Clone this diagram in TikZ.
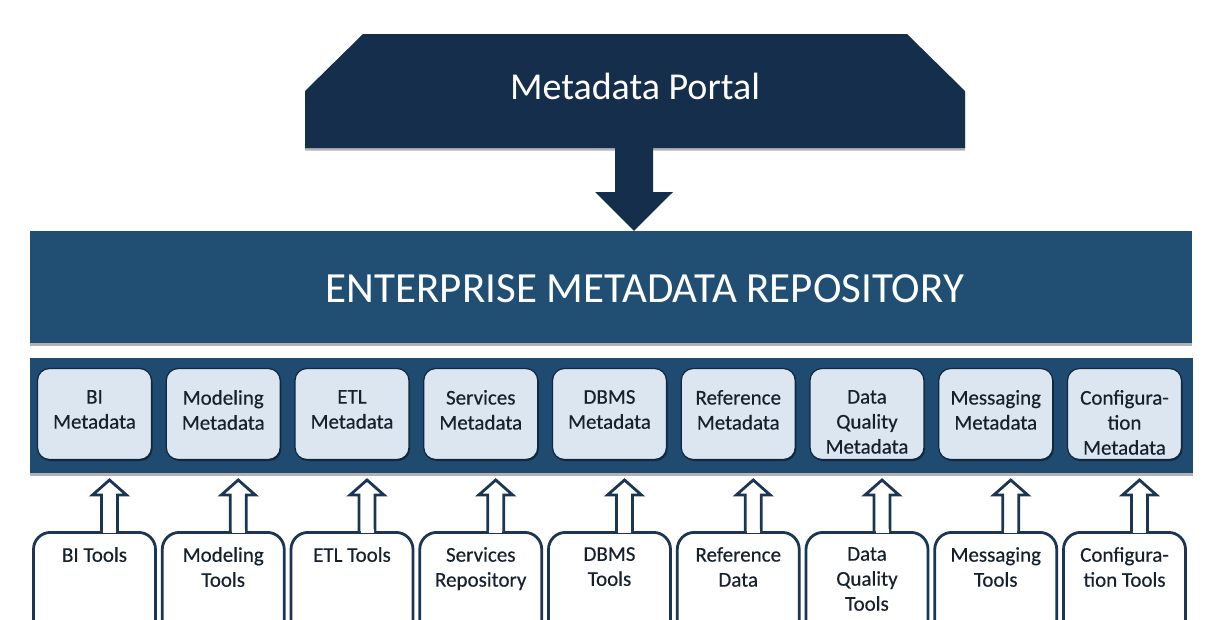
\documentclass[tikz,border=0pt]{standalone}
\usepackage{fontspec}
\setmainfont{Carlito}
\newfontfamily\cellfont{Carlito}[FakeBold=0.35]
\usetikzlibrary{shadows,calc}
\definecolor{portalblue}{HTML}{152E4B}
\definecolor{repoblue}{HTML}{214F74}
\definecolor{bandblue}{HTML}{1F4B71}
\definecolor{cellfill}{HTML}{DCE6F1}
\definecolor{cellline}{HTML}{0F2740}
\definecolor{toolline}{HTML}{1B3652}
\definecolor{inktext}{HTML}{16212D}
\tikzset{
  softshadow/.style={drop shadow={shadow xshift=0pt, shadow yshift=-2.5pt, fill=black, opacity=0.3}},
  cellshadow/.style={drop shadow={shadow xshift=1pt, shadow yshift=-1.5pt, fill=black, opacity=0.45}},
  mdcell/.style={rounded corners=12pt, fill=cellfill, draw=cellline, line width=1.2pt,
    minimum width=114pt, minimum height=91pt, inner sep=0pt, cellshadow},
  celltext/.style={anchor=north, align=center, text=inktext,
    font=\cellfont\fontsize{21}{25}\selectfont, inner sep=0pt},
  toolbox/.style={rounded corners=17pt, fill=white, draw=toolline, line width=2.8pt,
    minimum width=122pt, minimum height=130pt, anchor=north, inner sep=0pt},
  hollowarrow/.style={draw=toolline, fill=white, line width=2.8pt, line join=miter},
}
\begin{document}
\begin{tikzpicture}[x=1pt,y=-1pt]
\useasboundingbox (0,0) rectangle (1208,619);
\clip (0,0) rectangle (1208,619);
\fill[white] (0,0) rectangle (1208,619);

% portal banner
\fill[portalblue, softshadow] (363,34) -- (907,34) -- (965,91) -- (965,148)
  -- (305,148) -- (305,91) -- cycle;
\node[text=white, font=\fontsize{38}{40}\selectfont] (portal) at (635,86) {Metadata Portal};
\coordinate (portalbase) at (634,146);

% repository bar
\node[fill=repoblue, minimum width=1162pt, minimum height=112pt, inner sep=0pt, softshadow]
  (repo) at (611,287) {};
\node[text=white, font=\fontsize{43}{46}\selectfont] (repotitle) at (645,289)
  {ENTERPRISE METADATA REPOSITORY};

% downward arrow from portal to repository
\fill[portalblue] ($(portalbase)+(-19,0)$) -- ($(portalbase)+(-19,46)$)
  -- ($(portalbase)+(-39,46)$) -- (repo.north -| portalbase)
  -- ($(portalbase)+(39,46)$) -- ($(portalbase)+(19,46)$)
  -- ($(portalbase)+(19,0)$) -- cycle;

% metadata band
\node[fill=bandblue, minimum width=1163pt, minimum height=115pt, inner sep=0pt, softshadow]
  (band) at (611.5,415.5) {};

% metadata cells
\foreach \i/\txt in {0/{BI\\Metadata},1/{Modeling\\Metadata},2/{ETL\\Metadata},
    3/{Services\\Metadata},4/{DBMS\\Metadata},5/{Reference\\Metadata},
    6/{Data\\Quality\\Metadata},7/{Messaging\\Metadata},8/{Configura-\\tion\\Metadata}}{
  \node[mdcell] (m\i) at ({94.5+128.75*\i},414) {};
  \node[celltext] (mt\i) at ([yshift=-22pt]m\i.north) {\txt};
}

% tool boxes with hollow arrows up to the metadata cells
\foreach \i/\txt in {0/{BI Tools},1/{Modeling\\Tools},2/{ETL Tools},
    3/{Services\\Repository},4/{DBMS\\Tools},5/{Reference\\Data},
    6/{Data\\Quality\\Tools},7/{Messaging\\Tools},8/{Configura-\\tion Tools}}{
  \node[toolbox] (t\i) at ({94.5+128.75*\i},531) {};
  \node[celltext] (tt\i) at ([yshift=-16pt]t\i.north) {\txt};
  \draw[hollowarrow] ([xshift=7pt]t\i.north) -- ++(0,-36) -- ++(-9,0)
    -- ++(17,-15) -- ++(17,15) -- ++(-9,0) -- ++(0,36);
  \fill[white] ([xshift=8.5pt,yshift=1.6pt]t\i.north) rectangle
    ([xshift=21.5pt,yshift=-1.6pt]t\i.north);
}
\end{tikzpicture}
\end{document}
